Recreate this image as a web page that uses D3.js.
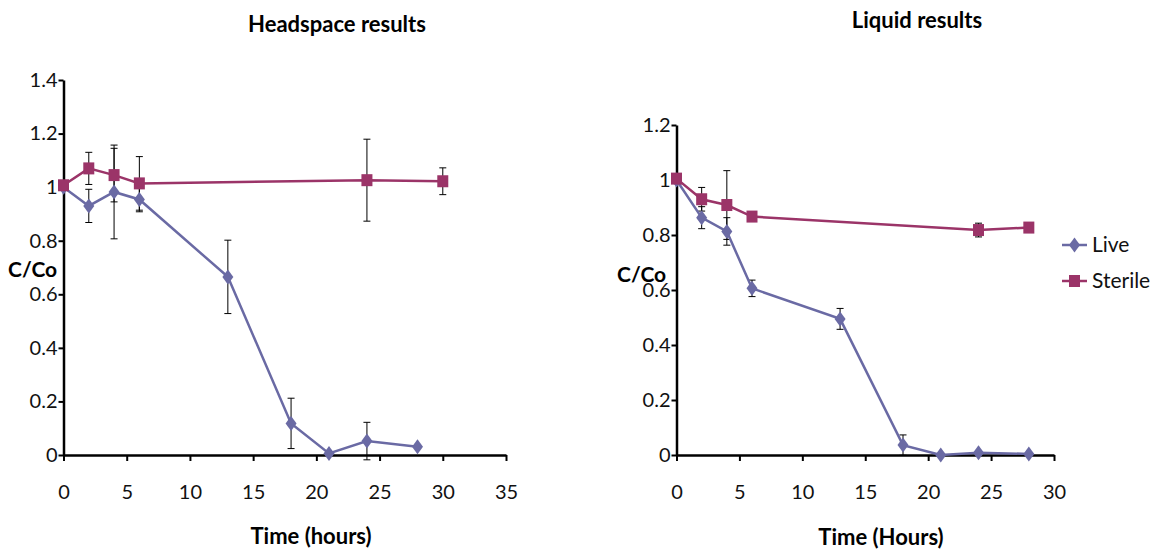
<!DOCTYPE html>
<html>
<head>
<meta charset="utf-8">
<script src="https://cdn.jsdelivr.net/npm/d3@7"></script>
<style>
  body { margin: 0; background: #fff; }
  svg { display: block; font-family: Lato, "Open Sans", sans-serif; }
</style>
</head>
<body>
<div id="chart"></div>
<script>
// Headspace panel
const hsLiveTime = [0, 2, 4, 6, 13, 18, 21, 24, 28];
const hsLive = [1.0, 0.93, 0.982, 0.954, 0.665, 0.118, 0.006, 0.052, 0.031];
const hsLiveErr = [0, 0.062, 0.175, 0.046, 0.137, 0.094, 0, 0.07, 0];
const hsSterileTime = [0, 2, 4, 6, 24, 30];
const hsSterile = [1.007, 1.07, 1.045, 1.014, 1.026, 1.022];
const hsSterileErr = [0, 0.06, 0.1, 0.1, 0.153, 0.05];

// Liquid panel
const lqLiveTime = [0, 2, 4, 6, 13, 18, 21, 24, 28];
const lqLive = [1.0, 0.863, 0.813, 0.606, 0.495, 0.036, 0.0, 0.008, 0.004];
const lqLiveErr = [0, 0.04, 0.05, 0.03, 0.038, 0.037, 0, 0, 0];
const lqSterileTime = [0, 2, 4, 6, 24, 28];
const lqSterile = [1.005, 0.93, 0.909, 0.867, 0.818, 0.827];
const lqSterileErr = [0, 0.043, 0.125, 0, 0.025, 0.015];

const hsXTicks = [0, 5, 10, 15, 20, 25, 30, 35];
const hsYTicks = [0, 0.2, 0.4, 0.6, 0.8, 1, 1.2, 1.4];
const lqXTicks = [0, 5, 10, 15, 20, 25, 30];
const lqYTicks = [0, 0.2, 0.4, 0.6, 0.8, 1, 1.2];

const seriesNames = ["Live", "Sterile"];
const colors = { Live: "#6a6aa4", Sterile: "#9b3468" };

const W = 1154, H = 551;
const svg = d3.select("#chart").append("svg")
    .attr("width", W)
    .attr("height", H);

function zipSeries(name, t, v, e) {
    return { name, points: t.map((d, i) => ({ t: d, v: v[i], e: e[i] })) };
}

function drawMarker(sel, name) {
    if (name === "Live") {
        sel.append("path")
            .attr("d", "M0,-7.5 L5.5,0 L0,7.5 L-5.5,0 Z")
            .attr("fill", colors.Live);
    } else {
        sel.append("rect")
            .attr("x", -5.5).attr("y", -6)
            .attr("width", 11).attr("height", 12)
            .attr("fill", colors.Sterile);
    }
}

function drawPanel(p) {
    const g = svg.append("g");

    const x = d3.scaleLinear().domain(p.xDomain).range([p.left, p.right]);
    const y = d3.scaleLinear().domain(p.yDomain).range([p.bottom, p.top]);

    // Axes
    const xAxis = g.append("g")
        .attr("transform", `translate(0,${p.bottom})`)
        .call(d3.axisBottom(x).tickValues(p.xTicks).tickSizeInner(6).tickSizeOuter(0).tickPadding(24).tickFormat(d3.format("d")));
    const yAxis = g.append("g")
        .attr("transform", `translate(${p.left},0)`)
        .call(d3.axisLeft(y).tickValues(p.yTicks).tickSizeInner(5).tickSizeOuter(0).tickPadding(1).tickFormat(d => d === 0 || d === 1 ? d3.format("d")(d) : d3.format(".1f")(d)));

    [xAxis, yAxis].forEach(a => {
        a.select(".domain").attr("stroke", "#000").attr("stroke-width", 2.5);
        a.selectAll(".tick line").attr("stroke", "#000").attr("stroke-width", 2);
        a.selectAll(".tick text").attr("fill", "#111").style("font-size", "20px").style("font-family", "Lato");
    });

    // Error bars
    p.series.forEach(s => {
        const eb = g.append("g");
        s.points.filter(d => d.e > 0).forEach(d => {
            const cx = x(d.t);
            eb.append("line")
                .attr("x1", cx).attr("x2", cx)
                .attr("y1", y(d.v - d.e)).attr("y2", y(d.v + d.e))
                .attr("stroke", "#000").attr("stroke-width", 1);
            [d.v - d.e, d.v + d.e].forEach(v => {
                eb.append("line")
                    .attr("x1", cx - 3.5).attr("x2", cx + 3.5)
                    .attr("y1", y(v)).attr("y2", y(v))
                    .attr("stroke", "#000").attr("stroke-width", 1);
            });
        });
    });

    // Lines and markers
    const line = d3.line().x(d => x(d.t)).y(d => y(d.v));
    p.series.forEach(s => {
        g.append("path")
            .datum(s.points)
            .attr("d", line)
            .attr("fill", "none")
            .attr("stroke", colors[s.name])
            .attr("stroke-width", 2.5);
        g.selectAll(null)
            .data(s.points)
            .enter()
            .append("g")
            .attr("transform", d => `translate(${x(d.t)},${y(d.v)})`)
            .each(function () { drawMarker(d3.select(this), s.name); });
    });

    // Title
    g.append("text")
        .attr("x", p.titleX).attr("y", p.titleY)
        .attr("text-anchor", "middle")
        .style("font-size", "22px").style("font-weight", "bold")
        .text(p.title);

    // X-axis title
    g.append("text")
        .attr("x", p.xTitleX).attr("y", p.xTitleY)
        .attr("text-anchor", "middle")
        .style("font-size", "22px").style("font-weight", "bold")
        .text(p.xTitle);

    // Y-axis title
    g.append("text")
        .attr("x", p.yTitleX).attr("y", p.yTitleY)
        .attr("dy", "0.35em")
        .style("font-size", "21px").style("font-weight", "bold")
        .text("C/Co");
}

drawPanel({
    xDomain: [0, 35], yDomain: [0, 1.4],
    left: 63.5, right: 506, top: 80, bottom: 455,
    xTicks: hsXTicks, yTicks: hsYTicks,
    series: [
        zipSeries("Live", hsLiveTime, hsLive, hsLiveErr),
        zipSeries("Sterile", hsSterileTime, hsSterile, hsSterileErr)
    ],
    title: "Headspace results", titleX: 337, titleY: 32,
    xTitle: "Time (hours)", xTitleX: 311, xTitleY: 544,
    yTitleX: 8, yTitleY: 270
});

drawPanel({
    xDomain: [0, 30], yDomain: [0, 1.2],
    left: 676.5, right: 1054, top: 125, bottom: 455,
    xTicks: lqXTicks, yTicks: lqYTicks,
    series: [
        zipSeries("Live", lqLiveTime, lqLive, lqLiveErr),
        zipSeries("Sterile", lqSterileTime, lqSterile, lqSterileErr)
    ],
    title: "Liquid results", titleX: 917, titleY: 28,
    xTitle: "Time (Hours)", xTitleX: 881, xTitleY: 545,
    yTitleX: 617, yTitleY: 275
});

// Legend
const legend = svg.append("g");
const legendY = d3.scalePoint().domain(seriesNames).range([245, 281]);
seriesNames.forEach(name => {
    const ly = legendY(name);
    legend.append("line")
        .attr("x1", 1062).attr("x2", 1087)
        .attr("y1", ly).attr("y2", ly)
        .attr("stroke", colors[name]).attr("stroke-width", 2.5);
    const m = legend.append("g").attr("transform", `translate(1074.5,${ly})`);
    drawMarker(m, name);
    legend.append("text")
        .attr("x", 1092).attr("y", ly)
        .attr("dy", "0.35em")
        .style("font-size", "21px")
        .attr("fill", "#111")
        .text(name);
});
</script>
</body>
</html>
